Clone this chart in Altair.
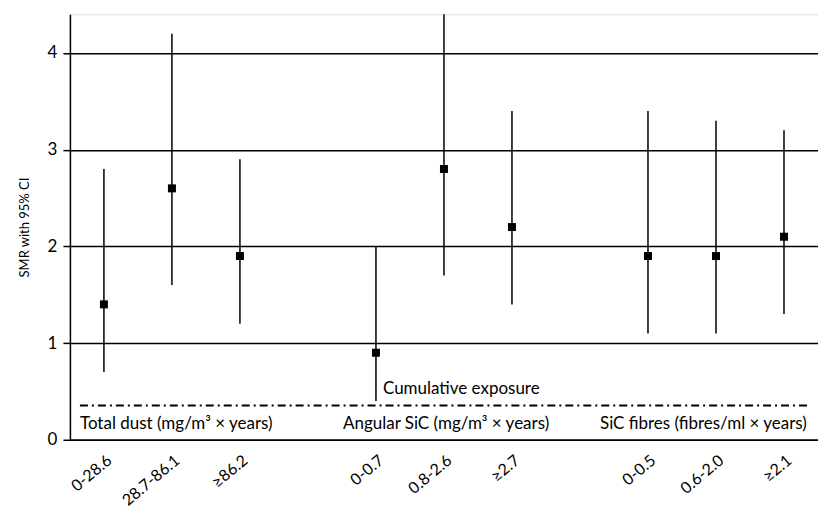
import altair as alt
import pandas as pd

categories = ["0-28.6", "28.7-86.1", "≥86.2", " ", "0-0.7", "0.8-2.6", "≥2.7", "  ", "0-0.5", "0.6-2.0", "≥2.1"]
cats = ["0-28.6", "28.7-86.1", "≥86.2", "0-0.7", "0.8-2.6", "≥2.7", "0-0.5", "0.6-2.0", "≥2.1"]
smr = [1.4, 2.6, 1.9, 0.9, 2.8, 2.2, 1.9, 1.9, 2.1]
ci_low = [0.7, 1.6, 1.2, 0.4, 1.7, 1.4, 1.1, 1.1, 1.3]
ci_high = [2.8, 4.2, 2.9, 2.0, 4.4, 3.4, 3.4, 3.3, 3.2]

group_labels = ["Total dust (mg/m³ × years)", "Angular SiC (mg/m³ × years)", "SiC fibres (fibres/ml × years)"]
group_anchor = ["0-28.6", "0-0.7", "0-0.5"]
group_dx = [-24, -33, -48]
group_y = [0.16, 0.16, 0.16]
divider_y = 0.354
header_label = "Cumulative exposure"
header_anchor = "0-0.7"
header_y = 0.52

FONT = "Lato"
df = pd.DataFrame({"cat": cats, "smr": smr, "lo": ci_low, "hi": ci_high})

x_enc = alt.X("cat:N", scale=alt.Scale(type="point", domain=categories, padding=0.5),
              sort=categories,
              axis=alt.Axis(title=None, labelAngle=-40, ticks=False, domain=True,
                            domainColor="black", domainWidth=1.5, labelFontSize=16,
                            labelFont=FONT, labelColor="black", labelPadding=12, grid=False))
y_scale = alt.Scale(domain=[0, 4.4], nice=False)
y_axis = alt.Axis(title="SMR with 95% CI", values=[0, 1, 2, 3, 4], format="d", grid=True, gridColor="black",
                  gridWidth=1.5, gridOpacity=1, domainColor="black", domainWidth=1.5,
                  tickColor="black", tickWidth=1.5, tickSize=7, labelFontSize=17, labelFont=FONT,
                  labelColor="black", labelPadding=6, titleFont=FONT, titleFontSize=13, titleFontWeight="normal",
                  titleColor="black", titlePadding=16)

rules = alt.Chart(df).mark_rule(color="black", strokeWidth=1.5).encode(
    x=x_enc, y=alt.Y("lo:Q", scale=y_scale, axis=y_axis), y2="hi:Q")
points = alt.Chart(df).mark_square(color="black", size=64, opacity=1).encode(
    x=alt.X("cat:N", sort=categories), y="smr:Q")

divider = alt.Chart(pd.DataFrame({"y": [divider_y]})).mark_rule(
    color="black", strokeWidth=2, strokeDash=[8, 4, 2, 4]).encode(
    y="y:Q", x=alt.value(10), x2=alt.value(742))

groups = pd.DataFrame({"cat": group_anchor, "label": group_labels, "y": group_y, "dx": group_dx})
group_text = alt.layer(*[
    alt.Chart(groups.iloc[[i]]).mark_text(align="left", baseline="middle", font=FONT, fontSize=17,
                                          color="black", dx=int(group_dx[i])).encode(
        x=alt.X("cat:N", sort=categories), y="y:Q", text="label:N")
    for i in range(len(group_labels))
])
header = alt.Chart(pd.DataFrame({"cat": [header_anchor], "label": [header_label], "y": [header_y]})).mark_text(
    align="left", baseline="middle", font=FONT, fontSize=17, color="black", dx=7).encode(
    x=alt.X("cat:N", sort=categories), y="y:Q", text="label:N")

chart = alt.layer(rules, points, divider, group_text, header).properties(
    width=749, height=426, autosize=alt.AutoSizeParams(type="none"),
    padding={"left": 62, "top": 6, "right": 0, "bottom": 70}
).configure_view(stroke=None).configure(background="white")

chart.save("out.html", embed_options={"renderer": "svg", "actions": False})
